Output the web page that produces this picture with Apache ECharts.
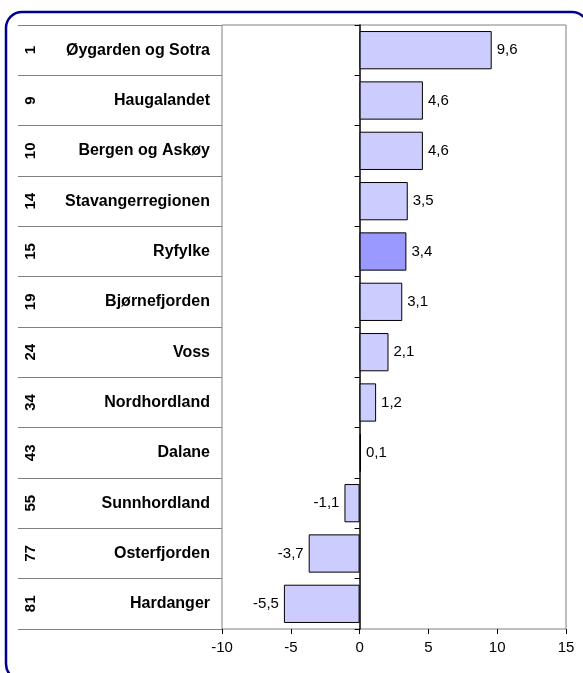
<!DOCTYPE html>
<html style="height: 100%">
<head>
<meta charset="UTF-8">
<title>Regioner</title>
<script src="https://cdn.jsdelivr.net/npm/echarts@6/dist/echarts.min.js"></script>
</head>
<body style="height: 100%; margin: 0; background: #fff">
<div id="container" style="width: 583px; height: 673px"></div>
<script type="text/javascript">
var ranks = ['1', '9', '10', '14', '15', '19', '24', '34', '43', '55', '77', '81'];
var names = ['Øygarden og Sotra', 'Haugalandet', 'Bergen og Askøy', 'Stavangerregionen', 'Ryfylke',
	'Bjørnefjorden', 'Voss', 'Nordhordland', 'Dalane', 'Sunnhordland', 'Osterfjorden', 'Hardanger'];
var values = [9.6, 4.6, 4.6, 3.5, 3.4, 3.1, 2.1, 1.2, 0.1, -1.1, -3.7, -5.5];
var highlight = 'Ryfylke';

var font = 'Liberation Sans, Arial, sans-serif';

var barData = [];
for (var i = 0; i < values.length; i++) {
	barData.push({
		value: values[i],
		itemStyle: { color: names[i] == highlight ? '#9999FF' : '#CCCCFF' },
		label: { position: values[i] < 0 ? 'left' : 'right' }
	});
}

var myChart = echarts.init(document.getElementById('container'));
var option = {
	animation: false,
	graphic: [{
		type: 'rect',
		shape: { x: 6, y: 12, width: 582, height: 668, r: 16 },
		style: { fill: 'none', stroke: '#00008C', lineWidth: 2.5 },
		z: 100
	}],
	grid: {
		left: 222,
		right: 17,
		top: 25,
		bottom: 44,
		show: true,
		borderColor: '#808080',
		borderWidth: 1
	},
	xAxis: {
		type: 'value',
		min: -10,
		max: 15,
		interval: 5,
		axisLine: { onZero: false, lineStyle: { color: '#808080', width: 1.5 } },
		axisTick: { show: true, length: 5, lineStyle: { color: '#000' } },
		axisLabel: { color: '#000', fontSize: 15, fontFamily: font, margin: 11 },
		splitLine: { show: false }
	},
	yAxis: [{
		// navn + tabellinjer
		type: 'category',
		data: names,
		inverse: true,
		position: 'left',
		axisLine: { show: false, onZero: false },
		axisTick: { show: true, length: 204, lineStyle: { color: '#808080' } },
		axisLabel: { color: '#000', fontSize: 16, fontWeight: 'bold', fontFamily: font, margin: 12 }
	}, {
		// rangering
		type: 'category',
		data: ranks,
		inverse: true,
		position: 'left',
		offset: 180,
		axisLine: { show: false, onZero: false },
		axisTick: { show: false },
		axisLabel: { color: '#000', fontSize: 15, fontWeight: 'bold', fontFamily: font, rotate: 90, margin: 4 }
	}, {
		// nullinje
		type: 'category',
		data: names,
		inverse: true,
		position: 'left',
		axisLine: { show: true, onZero: true, lineStyle: { color: '#000', width: 1.5 } },
		axisTick: { show: true, length: 5, lineStyle: { color: '#000' } },
		axisLabel: { show: false }
	}],
	series: [{
		type: 'bar',
		yAxisIndex: 0,
		data: barData,
		barCategoryGap: '24%',
		itemStyle: { borderColor: '#000', borderWidth: 1 },
		label: {
			show: true,
			color: '#000',
			fontSize: 15,
			fontFamily: font,
			distance: 5,
			formatter: function (p) { return String(p.value).replace('.', ','); }
		}
	}]
};
myChart.setOption(option);
</script>
</body>
</html>
